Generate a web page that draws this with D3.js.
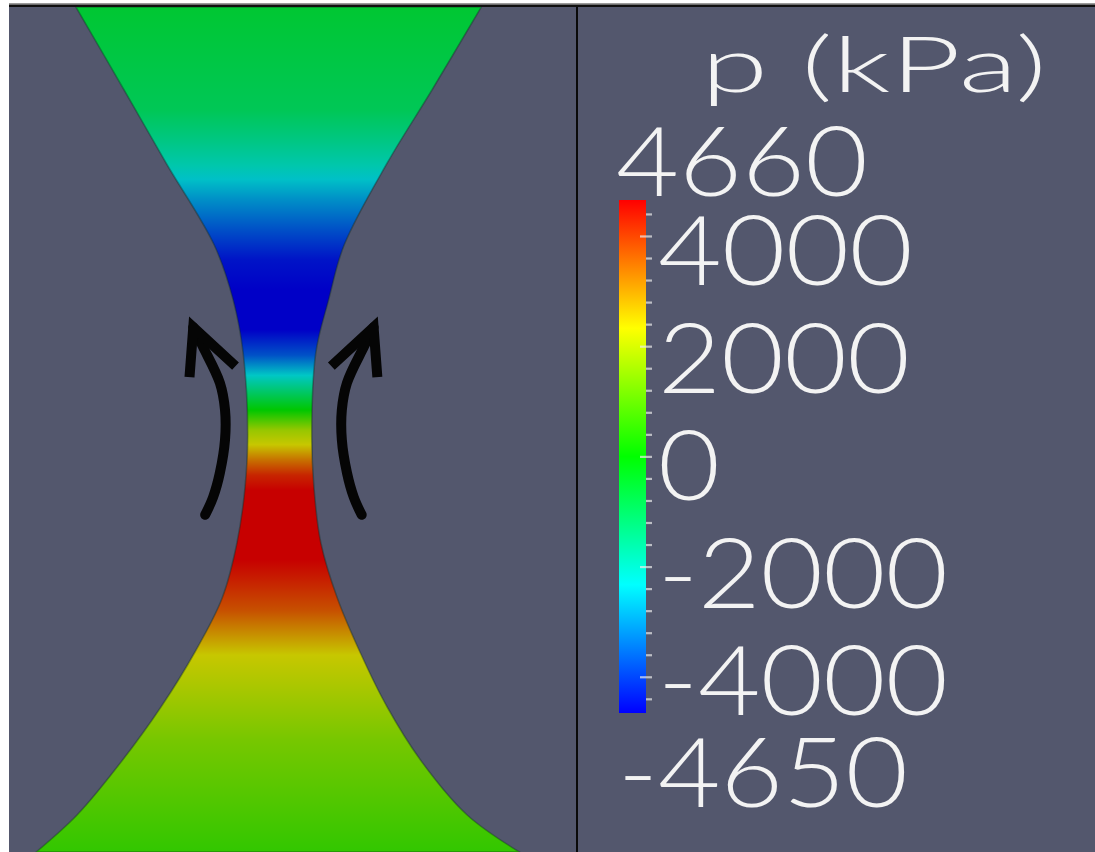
<!DOCTYPE html>
<html>
<head>
<meta charset="utf-8">
<script src="https://cdn.jsdelivr.net/npm/d3@7"></script>
<style>
  html, body { margin: 0; padding: 0; background: #ffffff; }
  svg { display: block; }
  text { font-family: "Lato", "Liberation Sans", sans-serif; font-weight: 300; fill: #f3f3f3; }
</style>
</head>
<body>
<svg id="chart" width="1095" height="852"></svg>
<script>
// Gap between the two rollers: stations down the channel (0 = top, 100 = bottom)
// and the left / right wall positions across the view (0..100).
const gapStations = [0, 9.82, 18.46, 28.17, 34.56, 40.95, 50.65, 57.04, 63.43, 69.94, 76.33, 82.84, 89.23, 95.62, 100];
const leftWall    = [11.8, 20.3, 27.7, 36.2, 39.5, 41.3, 42.1, 41.6, 40.2, 37.6, 32.8, 26.8, 19.9, 12.0, 4.8];
const rightWall   = [83.3, 74.6, 66.7, 59.1, 56.4, 54.1, 53.4, 53.8, 55.0, 57.9, 61.9, 66.7, 72.7, 80.8, 90.0];

// Pressure (kPa) along the channel.
const pressureStations = [0, 12.2, 15.7, 18.7, 20.4, 22.8, 26.4, 29.9, 33.5, 38.2, 41.2, 43.6, 45.9,
                          47.7, 50.1, 51.8, 53.6, 55.4, 57.2, 65.4, 67.8, 71.4, 73.7, 76.7, 80.8, 86.7, 93.8, 100];
const pressure = [-580, -1000, -1500, -2000, -2400, -2980, -3720, -4420, -4650, -4650, -3700, -2300, -1000,
                  0, 1770, 2330, 3340, 4230, 4660, 4660, 4300, 3720, 3130, 2330, 1960, 1400, 970, 585];

// Colour bar range and ticks.
const pMin = -4650, pMax = 4660;
const majorTicks = [4000, 2000, 0, -2000, -4000];
const minorTicks = d3.range(-4400, 4401, 400);
const legendTitle = "p (kPa)";

// Rotation arrows of the rollers (left one; the right one is its mirror image).
const arrowShaft = [[32.5, 37.9], [34.2, 40.2], [37.2, 44.5], [38.1, 47.7], [38.1, 51.2], [37.2, 55.1], [36.0, 58.0], [34.6, 60.1]];
const arrowHead  = [[31.9, 43.2], [32.5, 37.9], [39.3, 42.1]];
const mirrorAxis = 48.4;

const svg = d3.select("#chart");

// Frame
const frame = { x0: 9, y0: 7, x1: 1095, y1: 852, split: 577 };
svg.append("rect").attr("x", frame.x0).attr("y", frame.y0)
   .attr("width", frame.x1 - frame.x0).attr("height", frame.y1 - frame.y0)
   .attr("fill", "#53576d");
svg.append("rect").attr("x", frame.x0).attr("y", 3).attr("width", frame.x1 - frame.x0).attr("height", 1.5).attr("fill", "#9a9a9a");
svg.append("rect").attr("x", frame.x0).attr("y", 4.5).attr("width", frame.x1 - frame.x0).attr("height", 2.5).attr("fill", "#101010");

// Colour maps: blue -> red rainbow (hue 240 -> 0)
const rainbow = (light) => t => d3.hsl(240 * (1 - t), 1, light).toString();
const barColor = d3.scaleSequential(rainbow(0.5)).domain([pMin, pMax]).clamp(true);
const fieldColor = d3.scaleSequential(rainbow(0.39)).domain([pMin, pMax]).clamp(true);

// Field view
const fx = d3.scaleLinear().domain([0, 100]).range([frame.x0, frame.split - 1]);
const fy = d3.scaleLinear().domain([0, 100]).range([frame.y0, frame.y1]);

const defs = svg.append("defs");
defs.append("clipPath").attr("id", "viewClip")
    .append("rect").attr("x", frame.x0).attr("y", frame.y0)
    .attr("width", frame.split - frame.x0).attr("height", frame.y1 - frame.y0);

const fieldGrad = defs.append("linearGradient").attr("id", "fieldGrad")
    .attr("gradientUnits", "userSpaceOnUse")
    .attr("x1", 0).attr("x2", 0).attr("y1", fy(0)).attr("y2", fy(100));
fieldGrad.selectAll("stop").data(pressureStations).join("stop")
    .attr("offset", d => d / 100)
    .attr("stop-color", (d, i) => fieldColor(pressure[i]));

const view = svg.append("g").attr("clip-path", "url(#viewClip)");

// Extend the walls slightly past the frame so the clip cuts them cleanly.
const leftPts = gapStations.map((s, i) => [fx(leftWall[i]), fy(s)]);
const rightPts = gapStations.map((s, i) => [fx(rightWall[i]), fy(s)]).reverse();
const wallLine = d3.line().curve(d3.curveCatmullRom.alpha(0.5));
const gapPath = wallLine(leftPts) + "L" + wallLine(rightPts).slice(1) + "Z";

view.append("path").attr("d", gapPath)
    .attr("fill", "url(#fieldGrad)")
    .attr("stroke", "rgba(10,40,30,0.35)").attr("stroke-width", 1.6);

// Arrows
const arrowLine = d3.line().x(d => fx(d[0])).y(d => fy(d[1])).curve(d3.curveCatmullRom);
const arrowLineStraight = d3.line().x(d => fx(d[0])).y(d => fy(d[1]));
const mirror = pts => pts.map(([x, y]) => [2 * mirrorAxis - x, y]);
[[arrowShaft, arrowHead], [mirror(arrowShaft), mirror(arrowHead)]].forEach(([shaft, head]) => {
  view.append("path").attr("d", arrowLine(shaft))
      .attr("fill", "none").attr("stroke", "#050505").attr("stroke-width", 10)
      .attr("stroke-linecap", "round");
  view.append("path").attr("d", arrowLineStraight(head))
      .attr("fill", "none").attr("stroke", "#050505").attr("stroke-width", 10)
      .attr("stroke-linecap", "square").attr("stroke-linejoin", "miter");
});

// Divider between view and legend
svg.append("rect").attr("x", frame.split - 1).attr("y", frame.y0)
   .attr("width", 2).attr("height", frame.y1 - frame.y0).attr("fill", "#0a0a0a");

// Colour bar
const bar = { x: 619, w: 27, top: 200, bottom: 713 };
const by = d3.scaleLinear().domain([pMax, pMin]).range([bar.top, bar.bottom]);

const barGrad = defs.append("linearGradient").attr("id", "barGrad")
    .attr("x1", 0).attr("x2", 0).attr("y1", 0).attr("y2", 1);
barGrad.selectAll("stop").data(d3.range(0, 1.0001, 0.05)).join("stop")
    .attr("offset", d => d)
    .attr("stop-color", d => barColor(pMax - d * (pMax - pMin)));

svg.append("rect").attr("x", bar.x).attr("y", bar.top)
   .attr("width", bar.w).attr("height", bar.bottom - bar.top)
   .attr("fill", "url(#barGrad)");

svg.append("g").selectAll("rect").data(minorTicks).join("rect")
   .attr("x", d => majorTicks.includes(d) ? bar.x + bar.w - 6 : bar.x + bar.w)
   .attr("y", d => by(d) - 1)
   .attr("width", d => majorTicks.includes(d) ? 12 : 6)
   .attr("height", 2.2)
   .attr("fill", "rgba(235,235,235,0.7)");

// Legend text
const labelY = d3.scaleLinear().domain([4000, -4000]).range([285, 715]);
const fontSize = 96;

svg.append("text").text(legendTitle)
   .attr("x", 701).attr("y", 92)
   .attr("font-size", 76)
   .attr("textLength", 346).attr("lengthAdjust", "spacingAndGlyphs");

const labelWidth = { "4000": 255, "2000": 252, "0": 62, "-2000": 290, "-4000": 290 };
svg.append("g").selectAll("text").data(majorTicks).join("text")
   .text(d => d3.format("d")(d).replace("−", "-"))
   .attr("x", 658).attr("y", d => labelY(d))
   .attr("font-size", fontSize)
   .attr("textLength", d => labelWidth[String(d)])
   .attr("lengthAdjust", "spacingAndGlyphs");

svg.append("text").text(String(pMax))
   .attr("x", 616).attr("y", 196).attr("font-size", fontSize)
   .attr("textLength", 252).attr("lengthAdjust", "spacingAndGlyphs");
svg.append("text").text(String(pMin))
   .attr("x", 618).attr("y", 807).attr("font-size", fontSize)
   .attr("textLength", 290).attr("lengthAdjust", "spacingAndGlyphs");
</script>
</body>
</html>
